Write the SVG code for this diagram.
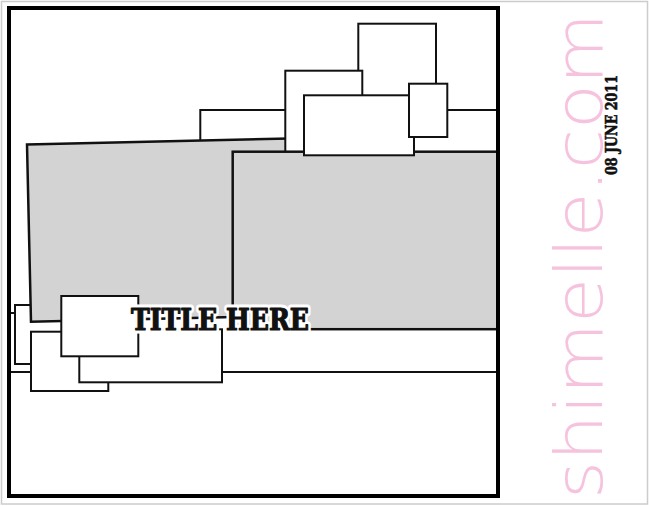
<svg xmlns="http://www.w3.org/2000/svg" width="649" height="506" viewBox="0 0 649 506">
<style>
.w{fill:#fff;stroke:#111;stroke-width:2}
.g{fill:#d3d3d3;stroke:#111;stroke-width:2.5}
.t{font-family:"DejaVu Serif","Liberation Serif",serif;font-weight:bold;font-size:29px}
.glow{fill:#fff;stroke:#fff;stroke-width:7;stroke-linejoin:round}
.ink{fill:#111;stroke:#111;stroke-width:1.2;stroke-linejoin:round}
.date{font-family:"DejaVu Serif","Liberation Serif",serif;font-weight:bold;fill:#111;stroke:#111;stroke-width:0.6}
.brand{font-family:"DejaVu Sans","Liberation Sans",sans-serif;font-weight:200;fill:#f6c3df;stroke:#fff;stroke-width:3;paint-order:stroke}
</style>
<rect x="1.5" y="1.5" width="646" height="502.5" fill="#fff" stroke="#cccccc" stroke-width="1.5"/>
<g id="shapes">
<rect id="top-strip" class="w" x="200.3" y="110" width="297.7" height="50"/>
<rect id="tall-rect" class="w" x="358.3" y="23.7" width="77.7" height="80"/>
<rect id="lower-strip" class="w" x="9" y="313" width="489" height="59"/>
<rect id="rect-b" class="w" x="15" y="305" width="85" height="59"/>
<polygon id="tilted-gray" class="g" points="27,144.5 300,138.3 304,315.5 31,321.7"/>
<rect id="mid-rect" class="w" x="285.3" y="70.7" width="77" height="90"/>
<rect id="right-gray" class="g" x="232.7" y="151.7" width="265.3" height="177.5"/>
<rect id="front-rect" class="w" x="304" y="95.3" width="110" height="60"/>
<rect id="small-rect" class="w" x="409" y="83.7" width="38.3" height="53.3"/>
<rect id="rect-c" class="w" x="31" y="331.7" width="77.3" height="59.3"/>
<rect id="rect-e" class="w" x="79.3" y="329.3" width="142.7" height="53"/>
<rect id="rect-d" class="w" x="61.3" y="296" width="77" height="60.3"/>
</g>
<g id="title">
<text class="t glow" x="131" y="329.5" textLength="178" lengthAdjust="spacingAndGlyphs">TITLE HERE</text>
<text class="t ink" x="131" y="329.5" textLength="178" lengthAdjust="spacingAndGlyphs">TITLE HERE</text>
</g>
<rect id="frame" x="9" y="8" width="489" height="488" fill="none" stroke="#000" stroke-width="4"/>
<g id="brand">
<text class="brand" x="0" y="0" font-size="66" textLength="486" lengthAdjust="spacingAndGlyphs" transform="translate(602,499) rotate(-90)">shimelle.com</text>
<text class="date" x="0" y="0" font-size="16" textLength="100" lengthAdjust="spacingAndGlyphs" transform="translate(617,175) rotate(-90)">08 JUNE 2011</text>
</g>
</svg>
